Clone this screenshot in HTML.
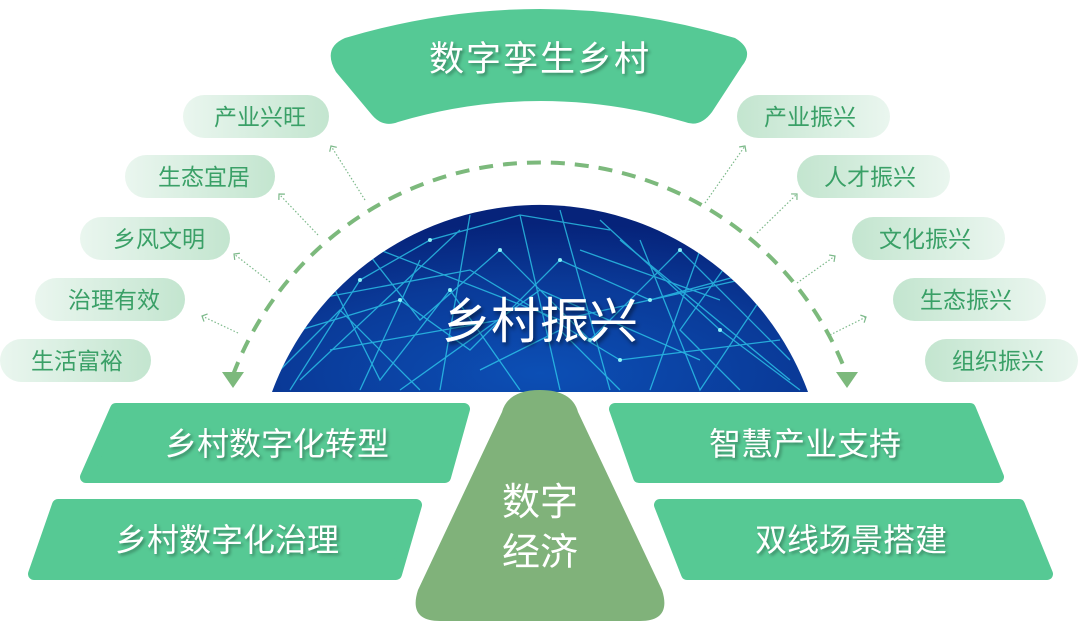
<!DOCTYPE html>
<html><head><meta charset="utf-8"><style>
html,body{margin:0;padding:0;background:#fff;}
svg{display:block;}
text{font-family:"Liberation Sans","Noto Sans CJK SC",sans-serif;}
</style></head><body>
<svg width="1080" height="623" viewBox="0 0 1080 623" xmlns="http://www.w3.org/2000/svg">
<defs>
<linearGradient id="pl" x1="0" x2="1" y1="0" y2="0"><stop offset="0" stop-color="#eaf6ef"/><stop offset="1" stop-color="#c3e5cf"/></linearGradient>
<linearGradient id="pr" x1="0" x2="1" y1="0" y2="0"><stop offset="0" stop-color="#c3e5cf"/><stop offset="1" stop-color="#eaf6ef"/></linearGradient>
<radialGradient id="gb" cx="0.5" cy="0.9" r="0.8"><stop offset="0" stop-color="#0c4fb5"/><stop offset="0.6" stop-color="#0a3a98"/><stop offset="1" stop-color="#06237a"/></radialGradient>
<clipPath id="hc"><path d="M272 392 A285.5 285.5 0 0 1 808 392 Z"/></clipPath>
<filter id="sh" x="-10%" y="-10%" width="130%" height="140%"><feDropShadow dx="2" dy="3" stdDeviation="2" flood-color="#000" flood-opacity="0.5"/></filter>
<filter id="sh2" x="-10%" y="-10%" width="130%" height="140%"><feDropShadow dx="2" dy="2" stdDeviation="1.5" flood-color="#000" flood-opacity="0.35"/></filter>
<marker id="ad" markerWidth="8" markerHeight="8" refX="4" refY="4" orient="auto"><path d="M0.5 0.5 L4 4 L0.5 7.5" fill="none" stroke="#7cb98a" stroke-width="1"/></marker>
</defs>

<!-- top banner -->
<path d="M345 38 Q540 -20 735 38 Q755 50 742 66 L712 112 Q700 128 685 122 Q540 80 398 122 Q383 128 372 115 L336 72 Q322 48 345 38 Z" fill="#55c995"/>
<text x="540" y="71" font-size="35" fill="#fff" text-anchor="middle" filter="url(#sh2)" letter-spacing="2">数字孪生乡村</text>

<!-- hemisphere -->
<path d="M272 392 A285.5 285.5 0 0 1 808 392 Z" fill="url(#gb)"/>
<g clip-path="url(#hc)" stroke="#2fd0f0" stroke-width="1.3" fill="none" opacity="0.75">
<path d="M290 390 L360 280 L430 240 L520 215 L610 230"/>
<path d="M300 330 L400 300 L470 350 L560 260 L650 300 L760 270"/>
<path d="M320 260 L380 380 L450 290 L520 390"/>
<path d="M350 230 L420 320 L500 250 L590 340 L680 250 L790 360"/>
<path d="M280 370 L340 310 L420 390"/>
<path d="M470 215 L440 390"/>
<path d="M560 210 L610 390"/>
<path d="M640 240 L700 390 L760 300"/>
<path d="M700 250 L650 390"/>
<path d="M600 220 L720 330 L800 390"/>
<path d="M380 250 L560 320 L740 280"/>
<path d="M310 300 L470 270 L620 360 L780 340"/>
<path d="M520 215 L560 390"/>
<path d="M420 260 L360 390"/>
<path d="M730 260 L680 330 L740 390"/>
<path d="M480 370 L560 330 L620 390"/>
<path d="M330 350 L500 320"/>
<path d="M580 250 L720 300"/>
<path d="M300 380 L460 230"/>
<path d="M620 240 L790 380"/>
<path d="M400 390 L540 290 L700 360"/>
</g>
<g clip-path="url(#hc)" fill="#9ff" opacity="0.9">
<circle cx="360" cy="280" r="2"/><circle cx="430" cy="240" r="2"/><circle cx="560" cy="260" r="2"/><circle cx="650" cy="300" r="2"/><circle cx="500" cy="250" r="2"/><circle cx="590" cy="340" r="2"/><circle cx="680" cy="250" r="2"/><circle cx="450" cy="290" r="2"/><circle cx="720" cy="330" r="2"/><circle cx="620" cy="360" r="2"/><circle cx="400" cy="300" r="2"/>
</g>
<text x="540" y="338" font-size="49" fill="#fff" text-anchor="middle" filter="url(#sh)">乡村振兴</text>

<!-- dashed arc -->
<path d="M233 375 A328 328 0 0 1 847 375" fill="none" stroke="#7cb97c" stroke-width="4" stroke-dasharray="14 10"/>
<path d="M222 372 L244 372 L233 388 Z" fill="#7cb97c"/>
<path d="M836 372 L858 372 L847 388 Z" fill="#7cb97c"/>

<!-- dotted arrows -->
<g stroke="#7cb98a" stroke-width="1.2" stroke-dasharray="1.5 2" fill="none" marker-end="url(#ad)">
<path d="M365 200 L331 146"/>
<path d="M318 235 L279 194"/>
<path d="M270 282 L234 254"/>
<path d="M238 333 L202 316"/>
<path d="M705 203 L745 146"/>
<path d="M757 233 L797 194"/>
<path d="M797 283 L835 256"/>
<path d="M830 335 L866 317"/>
</g>

<!-- pills -->
<g font-size="23" fill="#3aa067" text-anchor="middle">
<rect x="183" y="95" width="146" height="43" rx="21.5" fill="url(#pl)"/><text x="260" y="125">产业兴旺</text>
<rect x="125" y="155" width="150" height="43" rx="21.5" fill="url(#pl)"/><text x="204" y="185">生态宜居</text>
<rect x="80" y="217" width="150" height="43" rx="21.5" fill="url(#pl)"/><text x="159" y="247">乡风文明</text>
<rect x="35" y="278" width="150" height="43" rx="21.5" fill="url(#pl)"/><text x="114" y="308">治理有效</text>
<rect x="0" y="339" width="151" height="43" rx="21.5" fill="url(#pl)"/><text x="77" y="369">生活富裕</text>

<rect x="737" y="95" width="153" height="43" rx="21.5" fill="url(#pr)"/><text x="810" y="125">产业振兴</text>
<rect x="797" y="155" width="153" height="43" rx="21.5" fill="url(#pr)"/><text x="870" y="185">人才振兴</text>
<rect x="852" y="217" width="153" height="43" rx="21.5" fill="url(#pr)"/><text x="925" y="247">文化振兴</text>
<rect x="893" y="278" width="153" height="43" rx="21.5" fill="url(#pr)"/><text x="966" y="308">生态振兴</text>
<rect x="925" y="339" width="153" height="43" rx="21.5" fill="url(#pr)"/><text x="998" y="369">组织振兴</text>
</g>

<!-- bottom boxes -->
<g fill="#56c994" stroke="#56c994" stroke-width="12" stroke-linejoin="round">
<path d="M116 409 L464 409 L445 477 L86 477 Z"/>
<path d="M58 505 L416 505 L396 574 L34 574 Z"/>
<path d="M615 409 L970 409 L998 477 L639 477 Z"/>
<path d="M660 505 L1019 505 L1047 574 L687 574 Z"/>
</g>
<g font-size="32" fill="#fff" text-anchor="middle" filter="url(#sh2)">
<text x="277" y="455">乡村数字化转型</text>
<text x="227" y="551">乡村数字化治理</text>
<text x="805" y="455">智慧产业支持</text>
<text x="851" y="551">双线场景搭建</text>
</g>

<!-- center cone -->
<path d="M540 390 Q572 390 578 412 L662 590 Q672 621 640 621 L440 621 Q408 621 418 590 L502 412 Q508 390 540 390 Z" fill="#80b27a"/>
<g font-size="38" fill="#fff" text-anchor="middle">
<text x="540" y="515">数字</text>
<text x="540" y="565">经济</text>
</g>
</svg>
</body></html>
